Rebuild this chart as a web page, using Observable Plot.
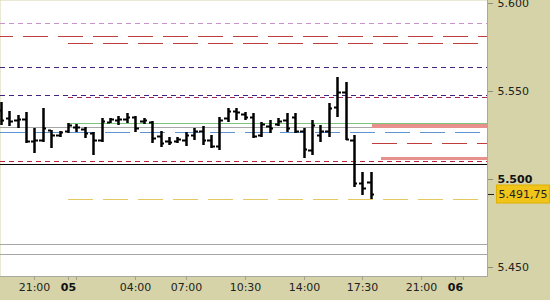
<!DOCTYPE html>
<html>
<head>
<meta charset="utf-8">
<script src="https://cdn.jsdelivr.net/npm/d3@7"></script>
<script src="https://cdn.jsdelivr.net/npm/@observablehq/plot@0.6"></script>
<style>
  html, body { margin: 0; padding: 0; background: #d5d3a7; }
</style>
</head>
<body>
<div id="chart"></div>
<script>
// 30-minute OHLC bars; slot 0 is the 00:00 bar of the 5th (session start)
const barSlot  = [-8, -7, -6, -5, -4, -3, -2, -1, 0, 1, 2, 3, 4, 5, 6, 7, 8, 9, 10, 11, 12, 13, 14, 15, 16, 17, 18, 19, 20, 21, 22, 23, 24, 25, 26, 27, 28, 29, 30, 31, 32, 33, 34, 35, 36];
const barOpen  = [5539.25, 5534.75, 5533.5, 5534.0, 5521.5, 5522.25, 5527.75, 5525.0, 5527.25, 5529.5, 5528.5, 5526.0, 5522.25, 5532.5, 5533.5, 5534.0, 5535.25, 5533.0, 5532.5, 5524.5, 5521.5, 5521.5, 5522.25, 5525.0, 5527.25, 5522.25, 5518.75, 5534.75, 5538.5, 5537.0, 5535.25, 5525.0, 5530.0, 5531.25, 5533.5, 5535.25, 5527.25, 5516.5, 5525.0, 5527.25, 5541.0, 5549.5, 5522.25, 5497.75, 5498.25];
const barHigh  = [5543.75, 5538.5, 5536.5, 5538.0, 5529.0, 5540.25, 5527.75, 5527.25, 5531.75, 5531.25, 5529.5, 5526.75, 5534.75, 5534.75, 5535.75, 5537.5, 5535.75, 5534.75, 5533.0, 5527.25, 5524.0, 5524.0, 5526.75, 5529.0, 5530.0, 5525.0, 5535.25, 5540.25, 5540.25, 5538.0, 5537.5, 5532.5, 5533.5, 5534.75, 5537.5, 5537.5, 5529.0, 5533.5, 5530.75, 5543.25, 5558.0, 5555.0, 5525.0, 5504.0, 5504.0];
const barLow   = [5530.75, 5530.0, 5529.0, 5520.5, 5514.75, 5521.0, 5517.5, 5524.0, 5526.0, 5526.75, 5523.25, 5513.5, 5521.0, 5531.75, 5530.75, 5531.75, 5526.75, 5531.25, 5520.5, 5518.25, 5519.25, 5520.5, 5518.75, 5522.25, 5519.25, 5517.5, 5516.5, 5532.5, 5533.5, 5533.5, 5523.25, 5524.0, 5526.0, 5530.0, 5526.75, 5526.0, 5512.0, 5513.5, 5521.0, 5524.0, 5535.25, 5522.25, 5495.5, 5491.0, 5488.5];
const barClose = [5533.5, 5533.0, 5534.0, 5521.5, 5522.25, 5529.0, 5525.0, 5526.75, 5530.75, 5529.5, 5526.0, 5522.25, 5533.0, 5534.0, 5534.0, 5535.25, 5529.0, 5533.5, 5523.25, 5520.5, 5521.0, 5522.75, 5525.0, 5527.25, 5522.25, 5518.75, 5533.5, 5538.5, 5538.0, 5535.25, 5524.5, 5531.25, 5529.0, 5533.0, 5529.0, 5527.25, 5517.0, 5530.75, 5527.25, 5540.25, 5549.5, 5522.75, 5497.75, 5495.0, 5491.75];

const lastPrice = 5491.75;

// reference levels drawn across the whole window
const lilacLevels      = [5588.5];
const redLongLevels    = [5581.25];
const purpleLevels     = [5563.5, 5548.0];
const greyLevels       = [5529.5, 5463.25, 5457.25];
const blueLevels       = [5526.75];
const redShortLevels   = [5510.25];
const closeLevels      = [5508.5];

// levels that start with the current session (slot 0)
const sessionStartSlot = 0;
const sessionRedLevels    = [5577.25];
const sessionMaroonLevels = [5546.5];
const sessionGreenLevels  = [5531.75];
const sessionYellowLevels = [5488.5];

// zones and levels projected ahead of the last bar
const zoneStartSlot = [36.15, 37.2];
const zoneLow       = [5529.25, 5510.75];
const zoneHigh      = [5531.75, 5512.25];
const projectedStartSlot = 36.15;
const projectedRedLevels = [5520.5];

// axis ticks
const priceTicks      = [5450, 5550, 5600];
const boldPriceTicks  = [5500];
const hourTickSlots   = [-4, 8, 14, 21, 28, 35, 42];
const hourTickLabels  = ["21:00", "04:00", "07:00", "10:30", "14:00", "17:30", "21:00"];
const dayTickSlots    = [0, 46];
const dayTickLabels   = ["05", "06"];
const minorTickSlots  = [1, 47];

const xDomain = [-8.09, 49.82];
const yDomain = [5444.89, 5601.7];
const xEnd = xDomain[1];

const de = d3.formatLocale({decimal: ",", thousands: ".", grouping: [3], currency: ["", ""]});
const fmtAxis = de.format(",.0f");
const fmtLast = de.format(",.2f");

const bars = barSlot.map((t, i) => ({t, open: barOpen[i], high: barHigh[i], low: barLow[i], close: barClose[i]}));
const zones = zoneStartSlot.map((s, i) => ({from: s, lo: zoneLow[i], hi: zoneHigh[i]}));
const hourLabel = new Map(hourTickSlots.map((s, i) => [s, hourTickLabels[i]]));
const dayLabel = new Map(dayTickSlots.map((s, i) => [s, dayTickLabels[i]]));

const fromSession = (levels, opts) =>
  Plot.ruleY(levels, {y: d => d, x1: () => sessionStartSlot, x2: () => xEnd, ...opts});

const chart = Plot.plot({
  width: 550,
  height: 300,
  marginLeft: 0,
  marginRight: 63,
  marginTop: 0,
  marginBottom: 24,
  style: {background: "#d5d3a7", fontFamily: "'DejaVu Sans', sans-serif", fontSize: "11px", color: "#222", overflow: "visible"},
  x: {domain: xDomain, round: true},
  y: {domain: yDomain, round: true},
  marks: [
    Plot.frame({fill: "white", stroke: null}),

    // full-width levels
    Plot.ruleY(lilacLevels, {stroke: "#cc92d0", strokeDasharray: "5,4"}),
    Plot.ruleY(redLongLevels, {stroke: "#bf3d3d", strokeDasharray: "25,10", strokeDashoffset: 12}),
    Plot.ruleY(purpleLevels, {stroke: "#44247e", strokeDasharray: "5,4"}),
    Plot.ruleY(greyLevels, {stroke: "#a6a6a6"}),
    Plot.ruleY(blueLevels, {stroke: "#5f93d0", strokeDasharray: "25,10"}),
    Plot.ruleY(redShortLevels, {stroke: "#bb2436", strokeDasharray: "5,4"}),
    Plot.ruleY(closeLevels, {stroke: "#000"}),

    // session levels
    fromSession(sessionRedLevels, {stroke: "#bf3d3d", strokeDasharray: "25,10"}),
    fromSession(sessionMaroonLevels, {stroke: "#a3285a", strokeDasharray: "5,4"}),
    fromSession(sessionYellowLevels, {stroke: "#e4c962", strokeDasharray: "25,10"}),

    // projected zones
    Plot.rect(zones, {x1: "from", x2: () => xEnd, y1: "lo", y2: "hi", fill: "#e8918c"}),
    Plot.ruleY(projectedRedLevels, {y: d => d, x1: () => projectedStartSlot, x2: () => xEnd, stroke: "#bf3d3d", strokeDasharray: "25,10"}),
    fromSession(sessionGreenLevels, {stroke: "#7cc67c"}),

    // OHLC bars
    Plot.ruleX(bars, {x: "t", y1: "low", y2: "high", stroke: "#000", strokeWidth: 2.5}),
    Plot.ruleY(bars, {y: "open", x1: d => d.t - 0.42, x2: "t", stroke: "#000", strokeWidth: 2}),
    Plot.ruleY(bars, {y: "close", x1: "t", x2: d => d.t + 0.42, stroke: "#000", strokeWidth: 2}),

    // panel edges
    Plot.frame({anchor: "right", stroke: "#a8a8a0"}),
    Plot.frame({anchor: "bottom", stroke: "#a8a8a0"}),

    // price axis
    Plot.axisY(priceTicks, {anchor: "right", tickSize: 5, tickPadding: 5, tickFormat: fmtAxis, stroke: "#8f8d7c", fill: "#222"}),
    Plot.axisY(boldPriceTicks, {anchor: "right", tickSize: 5, tickPadding: 5, tickFormat: fmtAxis, stroke: "#8f8d7c", fill: "#111", fontWeight: "bold"}),
    Plot.axisY([lastPrice], {anchor: "right", tickSize: 6, tickPadding: 5, tickFormat: fmtLast, stroke: "#222", fill: "#222"}),

    // time axis
    Plot.axisX(hourTickSlots, {anchor: "bottom", tickSize: 4, tickPadding: 3, tickFormat: d => hourLabel.get(d), stroke: "#a3a192", fill: "#222"}),
    Plot.axisX(dayTickSlots, {anchor: "bottom", tickSize: 4, tickPadding: 3, tickFormat: d => dayLabel.get(d), stroke: "#a3a192", fill: "#111", fontWeight: "bold"}),
    Plot.axisX(minorTickSlots, {anchor: "bottom", tickSize: 4, tickFormat: () => "", stroke: "#a3a192"})
  ]
});

document.getElementById("chart").append(chart);

// yellow price tag behind the last-price label
const lastText = fmtLast(lastPrice);
d3.select(chart).selectAll("text").each(function () {
  if (this.textContent === lastText) {
    const b = this.getBBox();
    d3.select(this.parentNode)
      .insert("rect", () => this)
      .attr("x", b.x - 2)
      .attr("y", b.y - 3)
      .attr("width", b.width + 4)
      .attr("height", b.height + 5)
      .attr("fill", "#f0c419")
      .attr("stroke", "#e0b000")
      .attr("transform", this.getAttribute("transform"));
  }
});
</script>
</body>
</html>
